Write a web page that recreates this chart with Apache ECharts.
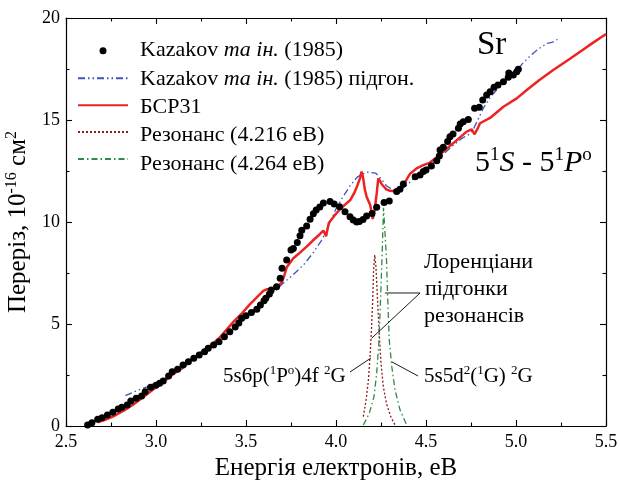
<!DOCTYPE html>
<html><head><meta charset="utf-8">
<script src="https://cdn.jsdelivr.net/npm/echarts@6/dist/echarts.min.js"></script>
<style>html,body{margin:0;padding:0;background:#fff}#c{width:620px;height:481px}</style>
</head><body><div id="c"></div>
<script>
// ---- data ----
const xTicks = [2.5, 3.0, 3.5, 4.0, 4.5, 5.0, 5.5];
const yTicks = [0, 5, 10, 15, 20];

const seriesNames = ['Kazakov та ін. (1985)', 'Kazakov та ін. (1985) підгон.', 'БСР31', 'Резонанс (4.216 еВ)', 'Резонанс (4.264 еВ)'];

const kazakovE = [2.62,2.644,2.676,2.70,2.73,2.76,2.79,2.81,2.84,2.86,2.89,2.92,2.94,2.97,3.00,3.02,3.04,3.07,3.09,3.12,3.15,3.18,3.21,3.24,3.27,3.29,3.32,3.35,3.38,3.41,3.44,3.46,3.476,3.50,3.53,3.56,3.58,3.60,3.61,3.63,3.64,3.67,3.69,3.70,3.726,3.75,3.763,3.785,3.80,3.81,3.837,3.856,3.874,3.89,3.91,3.93,3.967,3.99,4.02,4.05,4.078,4.096,4.115,4.13,4.15,4.17,4.20,4.226,4.267,4.296,4.337,4.355,4.374,4.44,4.467,4.485,4.50,4.53,4.56,4.574,4.578,4.596,4.62,4.633,4.65,4.68,4.69,4.707,4.735,4.77,4.796,4.815,4.837,4.856,4.878,4.90,4.93,4.957,4.96,4.985,5.004,5.013];
const kazakovS = [0.05,0.16,0.33,0.41,0.54,0.67,0.83,0.92,1.03,1.23,1.36,1.47,1.68,1.90,2.00,2.10,2.20,2.45,2.66,2.78,2.99,3.15,3.32,3.48,3.64,3.81,3.97,4.13,4.38,4.62,4.85,5.05,5.28,5.40,5.56,5.72,5.93,6.14,6.26,6.47,6.67,6.83,7.24,7.73,8.14,8.63,8.70,9.00,9.32,9.60,9.80,10.13,10.40,10.59,10.74,10.93,11.00,10.88,10.75,10.50,10.26,10.10,10.00,10.02,10.12,10.30,10.42,10.72,10.95,11.03,11.49,11.60,11.86,12.22,12.30,12.47,12.55,12.75,13.00,13.24,13.53,13.66,13.94,14.18,14.31,14.59,14.80,14.92,15.03,15.57,15.62,15.98,16.23,16.39,16.60,16.72,16.88,17.09,17.30,17.20,17.37,17.49];

const fitE = [2.83,2.90,2.95,3.00,3.05,3.10,3.15,3.20,3.25,3.30,3.35,3.40,3.45,3.50,3.55,3.60,3.65,3.70,3.76,3.82,3.87,3.92,3.96,4.00,4.04,4.08,4.12,4.17,4.22,4.25,4.28,4.32,4.35,4.40,4.45,4.50,4.55,4.60,4.65,4.70,4.74,4.76,4.79,4.82,4.86,4.90,4.95,5.00,5.04,5.08,5.12,5.17,5.20,5.23];
const fitS = [1.49,1.75,1.92,2.12,2.32,2.55,2.82,3.15,3.58,3.90,4.22,4.55,4.92,5.30,5.65,6.05,6.50,6.95,7.40,7.90,8.45,9.10,9.85,10.65,11.25,11.80,12.22,12.45,12.40,12.12,11.78,11.56,11.50,11.85,12.30,12.65,12.95,13.35,13.75,14.10,14.30,14.50,15.05,15.60,16.15,16.55,17.00,17.40,17.80,18.15,18.45,18.75,18.80,18.95];

const bsrE = [2.676,2.72,2.76,2.82,2.87,2.93,2.98,3.04,3.09,3.15,3.20,3.25,3.296,3.35,3.39,3.435,3.48,3.52,3.56,3.596,3.615,3.65,3.68,3.70,3.715,3.726,3.763,3.80,3.837,3.87,3.91,3.93,3.945,3.96,3.99,4.02,4.05,4.08,4.10,4.115,4.133,4.142,4.15,4.16,4.17,4.19,4.204,4.215,4.226,4.235,4.245,4.254,4.28,4.30,4.346,4.374,4.41,4.448,4.485,4.52,4.54,4.578,4.606,4.67,4.726,4.754,4.77,4.79,4.80,4.856,4.93,5.004,5.06,5.13,5.207,5.30,5.40,5.50];
const bsrS = [0.18,0.32,0.46,0.75,1.03,1.42,1.76,2.15,2.50,2.88,3.24,3.60,3.89,4.30,4.70,5.15,5.55,5.95,6.30,6.62,6.70,6.70,6.88,7.05,7.45,7.78,8.22,8.50,8.79,9.08,9.40,9.58,9.30,9.95,10.30,10.60,10.85,11.08,11.40,11.70,12.14,12.47,12.20,11.60,11.24,10.83,10.15,10.60,11.40,12.14,12.00,11.85,11.60,11.53,11.49,11.81,12.35,12.63,12.79,12.90,13.04,13.30,13.53,14.00,14.43,14.54,14.30,14.64,14.84,15.10,15.65,16.06,16.47,16.96,17.45,18.00,18.62,19.22];

const res1E = [4.152,4.167,4.18,4.189,4.196,4.204,4.209,4.215,4.222,4.229,4.239,4.25,4.263,4.28,4.304,4.328];
const res1S = [0.46,1.27,2.25,3.40,4.54,6.18,7.65,8.38,7.81,6.50,4.70,3.07,1.93,1.11,0.46,0.05];

const res2E = [4.152,4.185,4.211,4.226,4.239,4.248,4.256,4.264,4.28,4.287,4.296,4.31,4.328,4.356,4.393];
const res2S = [0.05,0.62,1.44,2.58,4.20,6.34,8.30,10.70,8.30,6.34,4.20,2.91,1.76,0.78,0.05];

// annotation leader lines (data coordinates)
const leaderLorentzE = [4.272, 4.467, 4.198];
const leaderLorentzS = [6.52, 6.52, 4.30];
const leaderLeftE = [4.078, 4.194];
const leaderLeftS = [2.65, 3.33];
const leaderRightE = [4.311, 4.456];
const leaderRightS = [3.14, 2.45];

// ---- chart ----
const pair = (xs, ys) => xs.map((x, i) => [x, ys[i]]);
const FONT = 'Liberation Serif';
const chart = echarts.init(document.getElementById('c'));

const axisCommon = {
  type: 'value',
  axisLine: { show: true, onZero: false, lineStyle: { color: '#000', width: 1.2 } },
  axisTick: { show: true, inside: true, length: 6, lineStyle: { color: '#000', width: 1.1 } },
  minorTick: { show: true, splitNumber: 2, length: 3.5, lineStyle: { color: '#000', width: 1.1 } },
  splitLine: { show: false },
  minorSplitLine: { show: false }
};

const supRich = (fs, lh) => ({
  n: { fontSize: fs, fontFamily: FONT, color: '#000', fill: '#000', lineHeight: lh },
  i: { fontSize: fs, fontFamily: FONT, fontStyle: 'italic', color: '#000', fill: '#000', lineHeight: lh },
  s: { fontSize: Math.round(fs * 0.62), fontFamily: FONT, color: '#000', fill: '#000', lineHeight: Math.round(fs * 0.62), verticalAlign: 'top' }
});

const lineSeries = (name, xs, ys, color, width, type) => ({
  name, type: 'line', data: pair(xs, ys), showSymbol: false, symbol: 'none',
  lineStyle: { color, width, type }, itemStyle: { color }, z: 3, silent: true
});
const leader = (xs, ys) => ({
  type: 'line', data: pair(xs, ys), showSymbol: false, symbol: 'none',
  lineStyle: { color: '#000', width: 0.9 }, silent: true, z: 4
});

// legend labels drawn as serif rich text
const LFS = 22;
const legendRich = {
  r: { fontSize: LFS, fontFamily: FONT, fill: '#000', lineHeight: LFS },
  i: { fontSize: LFS, fontFamily: FONT, fontStyle: 'italic', fill: '#000', lineHeight: LFS }
};
const legendLabel = name => {
  const k = name.indexOf('та ін.');
  if (k < 0) return '{r|' + name + '}';
  return '{r|' + name.slice(0, k) + '}{i|та ін.}{r|' + name.slice(k + 6) + '}';
};
const legendRowCenters = [50.7, 79, 107.3, 135.6, 163.9];

chart.setOption({
  animation: false,
  backgroundColor: '#fff',
  textStyle: { fontFamily: FONT },
  grid: { left: 66, right: 14, top: 18, bottom: 55, containLabel: false, outerBoundsMode: 'none' },
  xAxis: [
    Object.assign({}, axisCommon, {
      position: 'bottom', min: xTicks[0], max: xTicks[xTicks.length - 1], interval: 0.5,
      axisLabel: { fontSize: 18, fontFamily: FONT, color: '#000', margin: 7, formatter: v => v.toFixed(1) },
      name: 'Енергія електронів, еВ', nameLocation: 'middle', nameGap: 28,
      nameTextStyle: { fontSize: 25, fontFamily: FONT, color: '#000' }
    }),
    Object.assign({}, axisCommon, {
      position: 'top', min: xTicks[0], max: xTicks[xTicks.length - 1], interval: 0.5,
      axisLabel: { show: false }
    })
  ],
  yAxis: [
    Object.assign({}, axisCommon, {
      position: 'left', min: yTicks[0], max: yTicks[yTicks.length - 1], interval: 5,
      axisLabel: { fontSize: 18, fontFamily: FONT, color: '#000', margin: 6 },
      name: '{n|Переріз, 10}{s|-16}{n| см}{s|2}', nameLocation: 'middle', nameGap: 27,
      nameTextStyle: { fontSize: 25, fontFamily: FONT, color: '#000', rich: supRich(25, 29) }
    }),
    Object.assign({}, axisCommon, {
      position: 'right', min: yTicks[0], max: yTicks[yTicks.length - 1], interval: 5,
      axisLabel: { show: false }
    })
  ],
  legend: {
    show: true, orient: 'vertical', left: 77, top: 47.2, padding: 0,
    itemWidth: 50, itemHeight: 7, itemGap: 21.3,
    itemStyle: { opacity: 0 },
    data: [
      { name: seriesNames[0], icon: 'circle', itemStyle: { opacity: 1, color: '#000' } },
      { name: seriesNames[1] }, { name: seriesNames[2] }, { name: seriesNames[3] }, { name: seriesNames[4] }
    ],
    formatter: () => '',
    textStyle: { fontSize: 6, lineHeight: 7, color: '#000' },
    selectedMode: false
  },
  series: [
    {
      name: seriesNames[0], type: 'scatter', data: pair(kazakovE, kazakovS),
      symbol: 'circle', symbolSize: 7, itemStyle: { color: '#000', opacity: 1 }, z: 5, silent: true
    },
    lineSeries(seriesNames[1], fitE, fitS, '#3B56B8', 1.3, [7, 3, 1.5, 3, 1.5, 3]),
    lineSeries(seriesNames[2], bsrE, bsrS, '#EE2222', 2.5, 'solid'),
    lineSeries(seriesNames[3], res1E, res1S, '#8E1B1B', 1.3, [2, 2]),
    lineSeries(seriesNames[4], res2E, res2S, '#2E8B45', 1.3, [6, 3, 1.5, 3]),
    leader(leaderLorentzE, leaderLorentzS),
    leader(leaderLeftE, leaderLeftS),
    leader(leaderRightE, leaderRightS)
  ],
  graphic: seriesNames.map((nm, i) => ({
    type: 'text', left: 140, top: legendRowCenters[i] - LFS / 2,
    style: { text: legendLabel(nm), fontSize: LFS, fontFamily: FONT, fill: '#000', rich: legendRich }
  })).concat([
    { type: 'text', left: 477, top: 29, style: { text: 'Sr', fontSize: 33, fontFamily: FONT, fill: '#000' } },
    { type: 'text', left: 475, top: 146, style: { text: '{n|5}{s|1}{i|S}{n| - 5}{s|1}{i|P}{s|o}', fontSize: 30, fontFamily: FONT, rich: supRich(30, 34) } },
    { type: 'text', left: 424, top: 251, style: { text: 'Лоренціани', fontSize: 22, fontFamily: FONT, fill: '#000' } },
    { type: 'text', left: 425, top: 278, style: { text: 'підгонки', fontSize: 22, fontFamily: FONT, fill: '#000' } },
    { type: 'text', left: 424, top: 305, style: { text: 'резонансів', fontSize: 22, fontFamily: FONT, fill: '#000' } },
    { type: 'text', left: 223, top: 364, style: { text: '{n|5s6p(}{s|1}{n|P}{s|o}{n|)4f }{s|2}{n|G}', fontSize: 21, fontFamily: FONT, rich: supRich(21, 25) } },
    { type: 'text', left: 424, top: 364, style: { text: '{n|5s5d}{s|2}{n|(}{s|1}{n|G) }{s|2}{n|G}', fontSize: 21, fontFamily: FONT, rich: supRich(21, 25) } }
  ])
});
</script>
</body></html>
